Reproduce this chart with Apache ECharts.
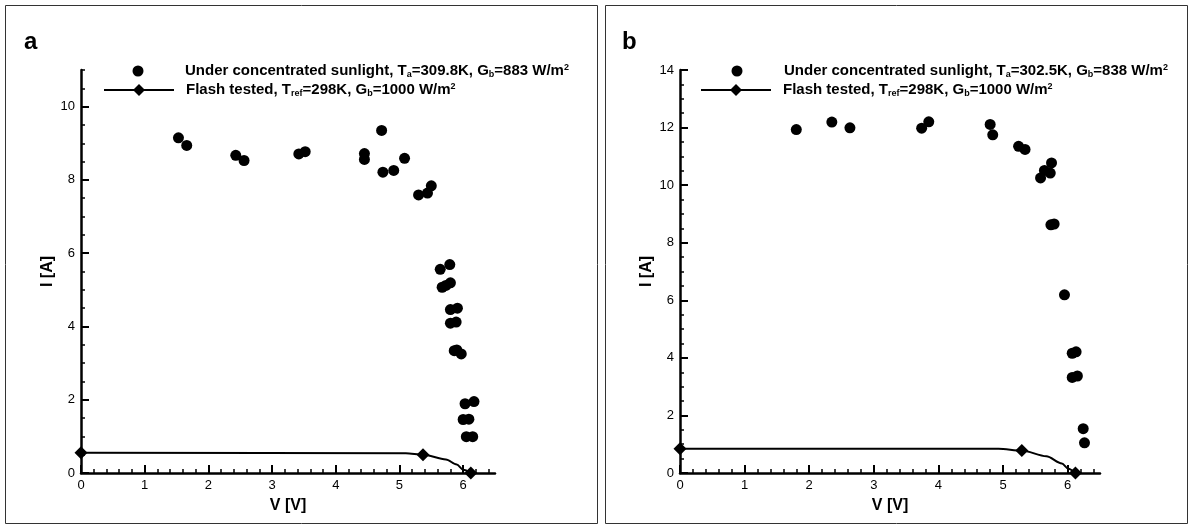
<!DOCTYPE html>
<html><head><meta charset="utf-8">
<script src="https://cdn.jsdelivr.net/npm/echarts@6/dist/echarts.min.js"></script>
<style>html,body{margin:0;padding:0;background:#fff}#c{width:1192px;height:530px}</style>
</head><body><div id="c"></div>
<script>
// ---------- data (V [V], I [A]) ----------
const sunA = [[1.53,9.15],[1.66,8.94],[2.43,8.67],[2.56,8.53],[3.42,8.71],[3.52,8.77],[4.45,8.72],[4.45,8.56],[4.72,9.35],[4.74,8.21],[4.91,8.26],[5.08,8.59],[5.30,7.59],[5.44,7.64],[5.50,7.84],[5.64,5.56],[5.79,5.69],[5.67,5.07],[5.73,5.12],[5.80,5.19],[5.80,4.46],[5.91,4.50],[5.80,4.09],[5.89,4.12],[5.86,3.34],[5.90,3.36],[5.97,3.25],[6.03,1.89],[6.17,1.95],[6.00,1.46],[6.09,1.47],[6.05,0.99],[6.15,0.99]];
const flashA = [[0,0.55],[5.10,0.54],[5.37,0.50],[5.73,0.37],[5.90,0.23],[6.00,0.09],[6.12,0]];
const sunB = [[1.80,11.93],[2.35,12.19],[2.63,11.99],[3.74,11.98],[3.85,12.20],[4.80,12.11],[4.84,11.75],[5.24,11.35],[5.34,11.24],[5.58,10.25],[5.64,10.51],[5.73,10.42],[5.75,10.77],[5.74,8.62],[5.79,8.65],[5.95,6.19],[6.07,4.16],[6.13,4.21],[6.07,3.32],[6.15,3.37],[6.24,1.54],[6.26,1.05]];
const flashB = [[0,0.84],[4.93,0.84],[5.29,0.78],[5.67,0.58],[5.91,0.33],[6.01,0.15],[6.12,0]];
const flashMarkedA = [0,2,6];   // indices of points drawn with a diamond
const flashMarkedB = [0,2,6];

const nameSunA = 'sunA', nameFlashA = 'flashA', nameSunB = 'sunB', nameFlashB = 'flashB';
const legendTexts = {
  sunA: '{b|Under concentrated sunlight, T}{sub|a}{b|=309.8K, G}{sub|b}{b|=883 W/m}{sup|2}',
  flashA: '{b|Flash tested, T}{sub|ref}{b|=298K, G}{sub|b}{b|=1000 W/m}{sup|2}',
  sunB: '{b|Under concentrated sunlight, T}{sub|a}{b|=302.5K, G}{sub|b}{b|=838 W/m}{sup|2}',
  flashB: '{b|Flash tested, T}{sub|ref}{b|=298K, G}{sub|b}{b|=1000 W/m}{sup|2}'
};

// ---------- ticks ----------
const xMajor = [0,1,2,3,4,5,6];
const xMinor = [0.2,0.4,0.6,0.8,1.2,1.4,1.6,1.8,2.2,2.4,2.6,2.8,3.2,3.4,3.6,3.8,4.2,4.4,4.6,4.8,5.2,5.4,5.6,5.8,6.2,6.4];
const yMajorA = [0,2,4,6,8,10];
const yMinorA = [0.5,1,1.5,2.5,3,3.5,4.5,5,5.5,6.5,7,7.5,8.5,9,9.5,10.5,11];
const yMajorB = [0,2,4,6,8,10,12,14];
const yMinorB = [0.5,1,1.5,2.5,3,3.5,4.5,5,5.5,6.5,7,7.5,8.5,9,9.5,10.5,11,11.5,12.5,13,13.5];
const xMax = 6.5, yMaxA = 11, yMaxB = 14;

const FONT = 'Liberation Sans, Arial, sans-serif';
const BLACK = '#000';

function majorX(grid, ticks) {
  return { type:'value', gridIndex:grid, position:'bottom', min:0, max:xMax,
    name:'V [V]', nameLocation:'middle', nameGap:25,
    nameTextStyle:{fontFamily:FONT, fontWeight:'bold', fontSize:16, color:BLACK},
    axisLine:{show:true, onZero:false, lineStyle:{color:BLACK, width:2.5}},
    axisTick:{show:true, inside:true, length:8, customValues:ticks, lineStyle:{color:BLACK, width:2}},
    axisLabel:{show:true, customValues:ticks, margin:6, fontFamily:FONT, fontSize:13, color:BLACK},
    splitLine:{show:false} };
}
function minorX(grid, ticks) {
  return { type:'value', gridIndex:grid, position:'bottom', min:0, max:xMax,
    axisLine:{show:false, onZero:false},
    axisTick:{show:true, inside:true, length:4, customValues:ticks, lineStyle:{color:BLACK, width:1.5}},
    axisLabel:{show:false}, splitLine:{show:false} };
}
function majorY(grid, max, ticks) {
  return { type:'value', gridIndex:grid, position:'left', min:0, max:max,
    name:'I [A]', nameLocation:'middle', nameGap:25,
    nameTextStyle:{fontFamily:FONT, fontWeight:'bold', fontSize:16, color:BLACK},
    axisLine:{show:true, onZero:false, lineStyle:{color:BLACK, width:2.5}},
    axisTick:{show:true, inside:true, length:8, customValues:ticks, lineStyle:{color:BLACK, width:2}},
    axisLabel:{show:true, customValues:ticks, margin:6, fontFamily:FONT, fontSize:13, color:BLACK},
    splitLine:{show:false} };
}
function minorY(grid, max, ticks) {
  return { type:'value', gridIndex:grid, position:'left', min:0, max:max,
    axisLine:{show:false, onZero:false},
    axisTick:{show:true, inside:true, length:4, customValues:ticks, lineStyle:{color:BLACK, width:1.5}},
    axisLabel:{show:false}, splitLine:{show:false} };
}
function flashData(pts, marked) {
  return pts.map((p, i) => ({ value:p, symbol: marked.indexOf(i) >= 0 ? 'diamond' : 'none' }));
}
const rich = {
  b:{fontFamily:FONT, fontWeight:'bold', fontSize:15, color:BLACK, lineHeight:18},
  sub:{fontFamily:FONT, fontWeight:'bold', fontSize:9, color:BLACK, lineHeight:18, verticalAlign:'bottom', padding:[0,0,1,0]},
  sup:{fontFamily:FONT, fontWeight:'bold', fontSize:9, color:BLACK, lineHeight:18, verticalAlign:'top', padding:[1,0,0,0]}
};
function legend(name, left, top, h) {
  return { data:[name], left:left, top:top, orient:'vertical', itemWidth:70, itemHeight:h,
    padding:0, selectedMode:false,
    formatter: n => legendTexts[n],
    textStyle:{rich:rich, padding:[0,0,0,7]} };
}

const chart = echarts.init(document.getElementById('c'), null, {renderer:'canvas'});
chart.setOption({
  backgroundColor:'#fff',
  animation:false,
  grid:[
    {left:81, top:70, width:414, height:403},
    {left:680, top:70, width:420, height:403}
  ],
  xAxis:[majorX(0,xMajor), minorX(0,xMinor), majorX(1,xMajor), minorX(1,xMinor)],
  yAxis:[majorY(0,yMaxA,yMajorA), minorY(0,yMaxA,yMinorA), majorY(1,yMaxB,yMajorB), minorY(1,yMaxB,yMinorB)],
  legend:[
    legend(nameSunA, 132.5, 62, 11),
    legend(nameFlashA, 103, 81, 15),
    legend(nameSunB, 731.5, 62, 11),
    legend(nameFlashB, 700, 81, 15)
  ],
  series:[
    {name:nameFlashA, type:'line', xAxisIndex:0, yAxisIndex:0, data:flashData(flashA, flashMarkedA),
      symbol:'diamond', symbolSize:13, showSymbol:true, smooth:0.3, smoothMonotone:'x',
      lineStyle:{color:BLACK, width:2}, itemStyle:{color:BLACK}, z:2},
    {name:nameSunA, type:'scatter', xAxisIndex:0, yAxisIndex:0, data:sunA,
      symbol:'circle', symbolSize:11, itemStyle:{color:BLACK, opacity:1}, z:3},
    {name:nameFlashB, type:'line', xAxisIndex:2, yAxisIndex:2, data:flashData(flashB, flashMarkedB),
      symbol:'diamond', symbolSize:13, showSymbol:true, smooth:0.3, smoothMonotone:'x',
      lineStyle:{color:BLACK, width:2}, itemStyle:{color:BLACK}, z:2},
    {name:nameSunB, type:'scatter', xAxisIndex:2, yAxisIndex:2, data:sunB,
      symbol:'circle', symbolSize:11, itemStyle:{color:BLACK, opacity:1}, z:3}
  ],
  graphic:[
    {type:'rect', shape:{x:5.5, y:5.5, width:592, height:518}, style:{fill:null, stroke:'#333', lineWidth:1}, silent:true},
    {type:'rect', shape:{x:605.5, y:5.5, width:582, height:518}, style:{fill:null, stroke:'#333', lineWidth:1}, silent:true},
    {type:'text', left:24, top:30, style:{text:'a', font:'bold 24px '+FONT, fill:BLACK}},
    {type:'text', left:622, top:30, style:{text:'b', font:'bold 24px '+FONT, fill:BLACK}}
  ]
});
</script></body></html>
